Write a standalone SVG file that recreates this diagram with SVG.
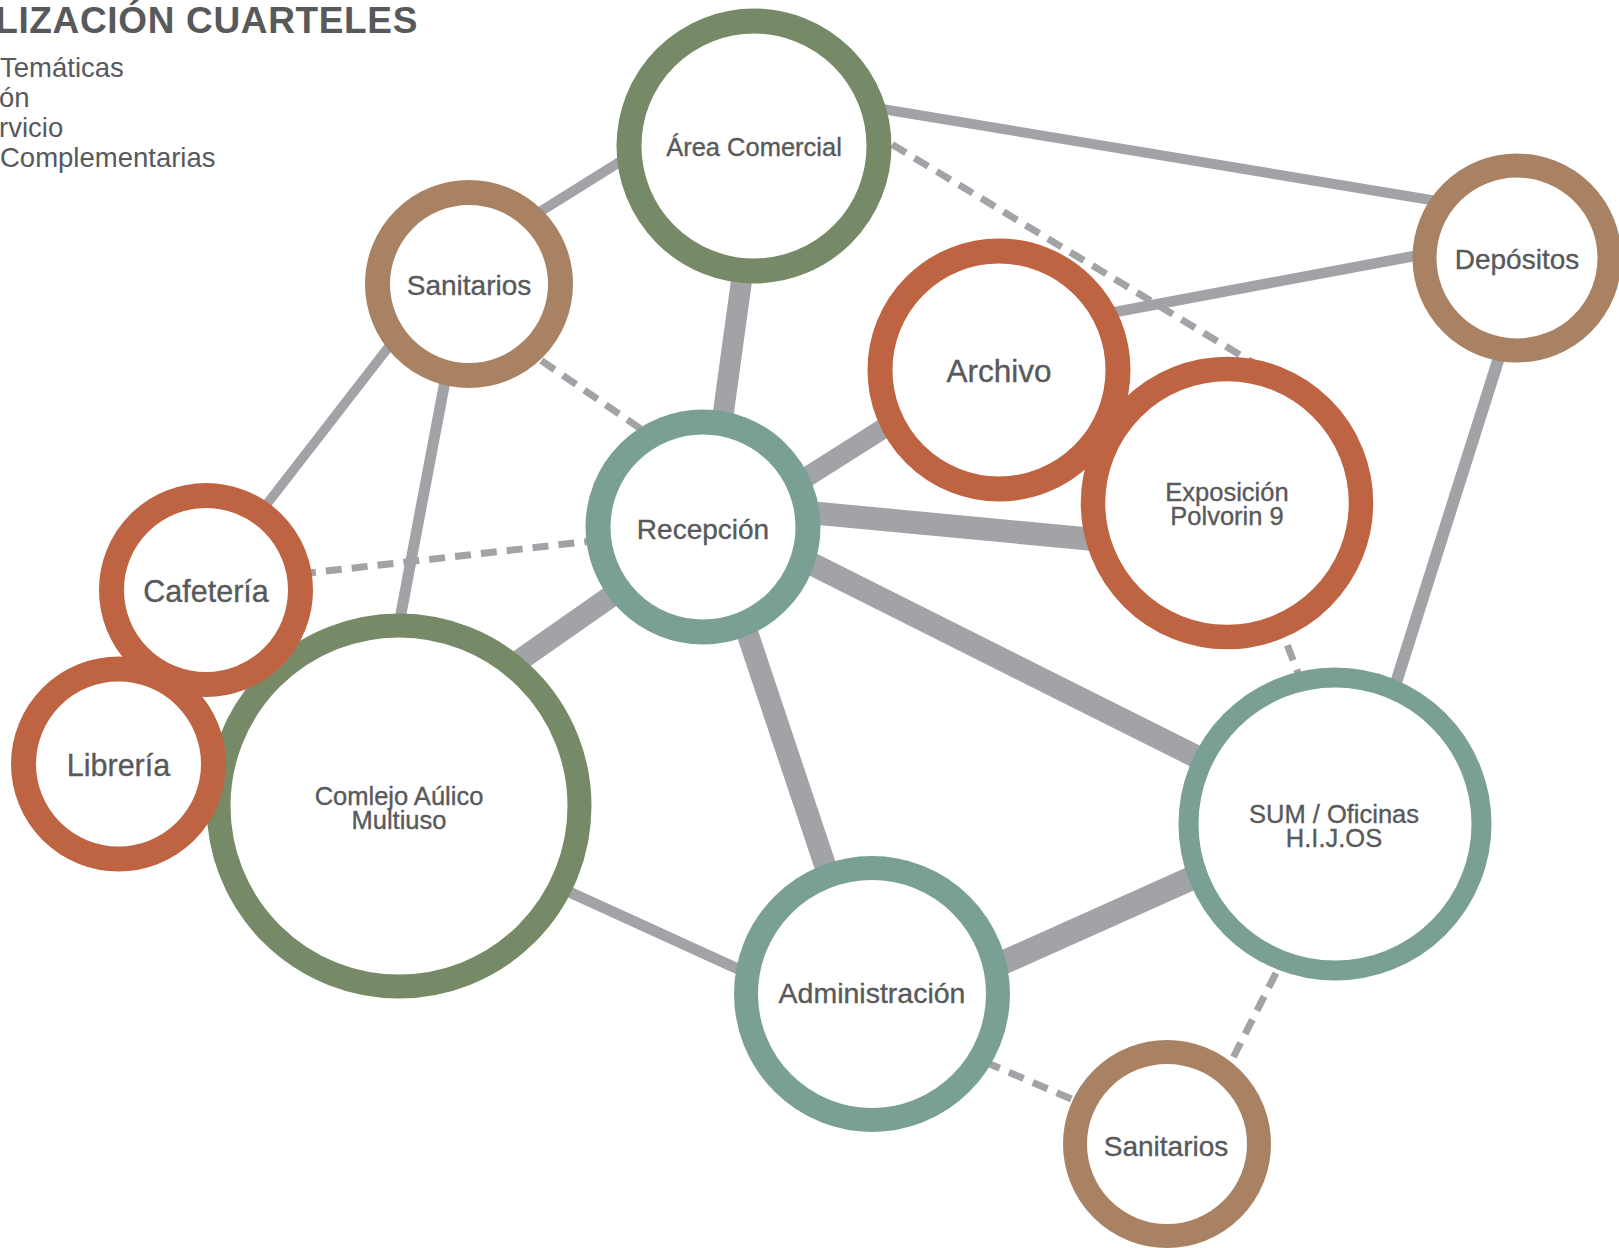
<svg xmlns="http://www.w3.org/2000/svg" width="1619" height="1248" viewBox="0 0 1619 1248">
<style>
.t{font-family:"Liberation Sans",Arial,Helvetica,sans-serif;fill:#58595b;}
.lbl{text-anchor:middle;stroke:#58595b;stroke-width:0.35;}
.c{fill:none;stroke:#a2a3a7;stroke-linecap:butt;}
.d{fill:none;stroke:#a2a3a7;stroke-width:7;stroke-dasharray:16 10;}
.n{fill:#ffffff;}
.g{stroke:#778a67;}
.tl{stroke:#7aa096;}
.o{stroke:#bf6443;}
.b{stroke:#a98163;}
</style>
<rect width="1619" height="1248" fill="#ffffff"/>
<g id="titulo">
<text class="t" x="418" y="33" text-anchor="end" font-size="37" font-weight="bold" letter-spacing="0.65">LIZACIÓN CUARTELES</text>
<text class="t" x="0" y="77" font-size="27.5">Temáticas</text>
<text class="t" x="-1" y="107" font-size="27.5">ón</text>
<text class="t" x="-1" y="137" font-size="27.5">rvicio</text>
<text class="t" x="0" y="167" font-size="27.5">Complementarias</text>
</g>
<g id="connectors">
<line class="c" stroke-width="10" x1="634" y1="153" x2="530" y2="218"/>
<line class="c" stroke-width="10" x1="870" y1="107" x2="1440" y2="201.5"/>
<line class="c" stroke-width="10.5" x1="1110" y1="313" x2="1425" y2="254"/>
<line class="c" stroke-width="21" x1="743" y1="270" x2="721" y2="430"/>
<line class="c" stroke-width="9.5" x1="409.5" y1="320" x2="254.5" y2="520"/>
<line class="c" stroke-width="11" x1="449" y1="360" x2="396" y2="640"/>
<line class="d" x1="520" y1="346" x2="660" y2="442"/>
<line class="d" x1="300" y1="574" x2="610" y2="539"/>
<line class="c" stroke-width="20" x1="780" y1="494" x2="900" y2="418"/>
<line class="c" stroke-width="23" x1="790" y1="510.7" x2="1110" y2="541"/>
<line class="c" stroke-width="23" x1="790" y1="553" x2="1215" y2="766"/>
<line class="c" stroke-width="22" x1="500" y1="674" x2="630" y2="583"/>
<line class="c" stroke-width="22" x1="739.6" y1="610" x2="830" y2="880"/>
<line class="d" x1="870" y1="131" x2="1265" y2="370"/>
<line class="d" x1="1278" y1="621" x2="1303.5" y2="687"/>
<line class="c" stroke-width="12" x1="1503" y1="345" x2="1393.7" y2="690"/>
<line class="c" stroke-width="24" x1="1210" y1="870" x2="990" y2="968.5"/>
<line class="c" stroke-width="11" x1="560" y1="887.7" x2="760" y2="979"/>
<line class="d" x1="985" y1="1062" x2="1090" y2="1107"/>
<line class="d" x1="1287.7" y1="950" x2="1224.3" y2="1075"/>
</g>
<g id="comlejo">
<circle class="n g" cx="399" cy="806" r="180.5" stroke-width="24"/>
<text class="t lbl" x="399" y="804.5" font-size="25.5">Comlejo Aúlico</text>
<text class="t lbl" x="399" y="828.5" font-size="25.5">Multiuso</text>
</g>
<g id="area-comercial">
<circle class="n g" cx="754" cy="146" r="125" stroke-width="25"/>
<text class="t lbl" x="754" y="155.5" font-size="25.5">Área Comercial</text>
</g>
<g id="sanitarios-1">
<circle class="n b" cx="469" cy="284" r="91.5" stroke-width="25"/>
<text class="t lbl" x="469" y="295" font-size="28">Sanitarios</text>
</g>
<g id="depositos">
<circle class="n b" cx="1517" cy="258" r="92.5" stroke-width="24"/>
<text class="t lbl" x="1517" y="268.5" font-size="28">Depósitos</text>
</g>
<g id="recepcion">
<circle class="n tl" cx="703" cy="527" r="105" stroke-width="25"/>
<text class="t lbl" x="703" y="539" font-size="28">Recepción</text>
</g>
<g id="sum-oficinas">
<circle class="n tl" cx="1335" cy="824" r="146.5" stroke-width="20"/>
<text class="t lbl" x="1334" y="822.5" font-size="25.5">SUM / Oficinas</text>
<text class="t lbl" x="1334" y="846.5" font-size="25.5">H.I.J.OS</text>
</g>
<g id="administracion">
<circle class="n tl" cx="872" cy="994" r="126" stroke-width="24"/>
<text class="t lbl" x="872" y="1002.5" font-size="28.5">Administración</text>
</g>
<g id="sanitarios-2">
<circle class="n b" cx="1167" cy="1144" r="92" stroke-width="24"/>
<text class="t lbl" x="1166" y="1155.5" font-size="28">Sanitarios</text>
</g>
<g id="cafeteria">
<circle class="n o" cx="206" cy="590" r="94.5" stroke-width="25"/>
<text class="t lbl" x="206" y="601.5" font-size="30.5">Cafetería</text>
</g>
<g id="libreria">
<circle class="n o" cx="118.5" cy="764" r="95" stroke-width="25"/>
<text class="t lbl" x="118.5" y="775.5" font-size="30.5">Librería</text>
</g>
<g id="archivo">
<circle class="n o" cx="999" cy="370" r="119" stroke-width="25"/>
<text class="t lbl" x="999" y="382" font-size="31.5">Archivo</text>
</g>
<g id="exposicion">
<circle class="n o" cx="1227" cy="503" r="134" stroke-width="24.5"/>
<text class="t lbl" x="1227" y="500.5" font-size="25.5">Exposición</text>
<text class="t lbl" x="1227" y="524.5" font-size="25.5">Polvorin 9</text>
</g>
</svg>
